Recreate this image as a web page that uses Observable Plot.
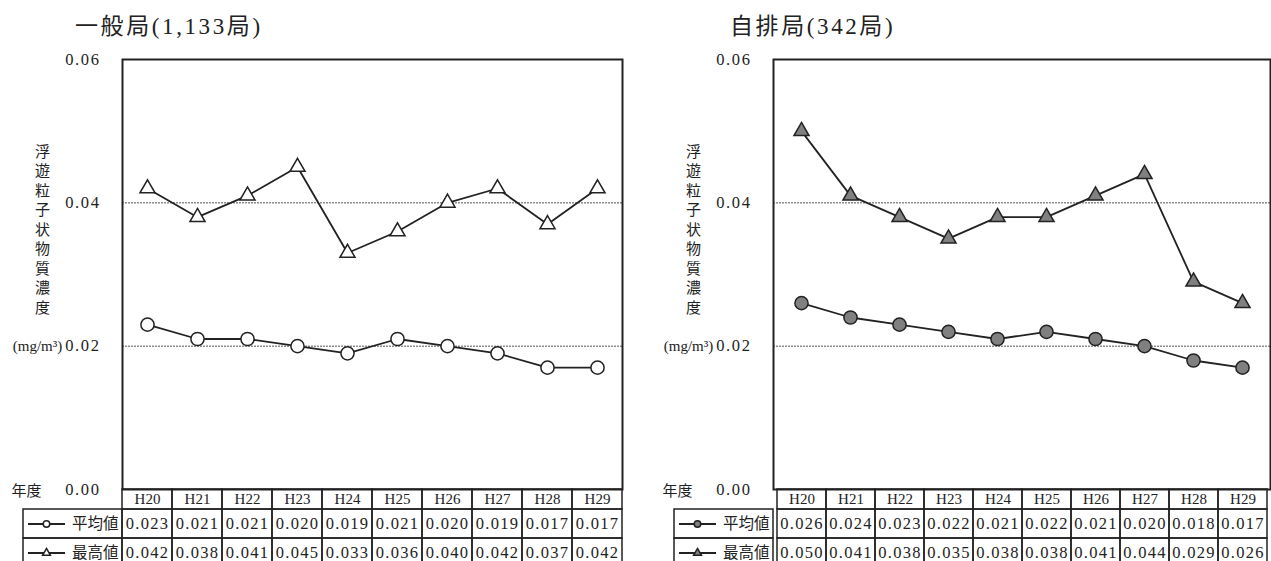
<!DOCTYPE html>
<html><head><meta charset="utf-8">
<script src="https://cdn.jsdelivr.net/npm/d3@7"></script>
<script src="https://cdn.jsdelivr.net/npm/@observablehq/plot@0.6"></script>
<style>
html,body{margin:0;padding:0;background:#fff;}
body{width:1271px;height:561px;overflow:hidden;position:relative;color:#222;}
.abs{position:absolute;}
.title{font-family:"Liberation Serif","Noto Sans CJK JP",serif;font-size:23px;letter-spacing:2.6px;white-space:nowrap;line-height:1;}
svg{overflow:visible;}
</style></head><body>
<script>
// ---- data ----
const years = ["H20","H21","H22","H23","H24","H25","H26","H27","H28","H29"];
const rowLabels = ["平均値","最高値"];
const generalAvg = [0.023,0.021,0.021,0.020,0.019,0.021,0.020,0.019,0.017,0.017];
const generalMax = [0.042,0.038,0.041,0.045,0.033,0.036,0.040,0.042,0.037,0.042];
const roadsideAvg = [0.026,0.024,0.023,0.022,0.021,0.022,0.021,0.020,0.018,0.017];
const roadsideMax = [0.050,0.041,0.038,0.035,0.038,0.038,0.041,0.044,0.029,0.026];
const yTicks = [0, 0.02, 0.04, 0.06];
const yLabel = "浮遊粒子状物質濃度";
const unitLabel = "(mg/m³)";
const yearLabel = "年度";
const titles = ["一般局(1,133局)", "自排局(342局)"];

const SERIF = '"Liberation Serif","Noto Sans CJK JP",serif';
const JP = '"Noto Sans CJK JP",sans-serif';
const INK = "#222";

const panels = [
  {title: titles[0], avg: generalAvg, max: generalMax, fill: "#ffffff",
   left: 0, width: 640, frameLeft: 122, frameRight: 622, tableLeft: 23, titleLeft: 75},
  {title: titles[1], avg: roadsideAvg, max: roadsideMax, fill: "#808080",
   left: 640, width: 631, frameLeft: 773, frameRight: 1270, tableLeft: 674, titleLeft: 730}
];

function place(node, left, top) {
  node.classList.add("abs");
  node.style.left = left + "px";
  node.style.top = top + "px";
  document.body.appendChild(node);
}

const fmt2 = d3.format(".2f");
const fmt3 = d3.format(".3f");

for (const p of panels) {
  const avgData = years.map((year, i) => ({year, value: p.avg[i]}));
  const maxData = years.map((year, i) => ({year, value: p.max[i]}));
  const mL = p.frameLeft - p.left;
  const mR = p.left + p.width - p.frameRight;

  // title
  const t = document.createElement("div");
  t.className = "title";
  t.textContent = p.title;
  place(t, p.titleLeft, 15);

  // chart
  const chart = Plot.plot({
    width: p.width, height: 490,
    marginTop: 59, marginBottom: 1, marginLeft: mL, marginRight: mR,
    style: {fontFamily: SERIF, fontSize: "15px", color: INK, background: "transparent", overflow: "visible"},
    x: {type: "point", domain: years, padding: 0.5, axis: null},
    y: {domain: [0, 0.06], axis: null},
    marks: [
      Plot.ruleY([0.02, 0.04], {stroke: "#8c8c8c", strokeWidth: 1.5, strokeDasharray: "2,1"}),
      Plot.frame({stroke: INK, strokeWidth: 2}),
      Plot.line(maxData, {x: "year", y: "value", stroke: INK, strokeWidth: 1.8}),
      Plot.line(avgData, {x: "year", y: "value", stroke: INK, strokeWidth: 1.8}),
      Plot.dot(avgData, {x: "year", y: "value", r: 6.6, fill: p.fill, stroke: INK, strokeWidth: 1.5}),
      Plot.dot(maxData, {x: "year", y: "value", symbol: "triangle", r: 5.6, fill: p.fill, stroke: INK, strokeWidth: 1.5}),
      // y tick labels
      Plot.text(yTicks, {y: d => d, text: d => fmt2(d), frameAnchor: "left", textAnchor: "end", dx: -22, fontSize: 16.5, fill: INK}),
      // axis titles
      Plot.text([yLabel.split("").join("\n")], {frameAnchor: "left", textAnchor: "middle", dx: -80, dy: -46, lineHeight: 1.3, fontFamily: JP, fontSize: 15, fill: INK}),
      Plot.text([{v: 0.02, t: unitLabel}], {y: "v", text: "t", frameAnchor: "left", textAnchor: "middle", dx: -85, fontSize: 15, fill: INK}),
      Plot.text([{v: 0, t: yearLabel}], {y: "v", text: "t", frameAnchor: "left", textAnchor: "middle", dx: -96, dy: 2, fontFamily: JP, fontSize: 15, fill: INK})
    ]
  });
  // widen the numeric tick labels like the original's monospaced digits
  chart.querySelectorAll("text").forEach(el => {
    if (/^\d\.\d\d$/.test(el.textContent)) el.style.letterSpacing = "1.6px";
  });
  place(chart, p.left, 0);

  // header row of the table
  const header = Plot.plot({
    width: p.width, height: 20,
    marginTop: 0, marginBottom: 0, marginLeft: mL, marginRight: mR,
    style: {fontFamily: SERIF, fontSize: "15px", color: INK, background: "transparent", overflow: "visible"},
    x: {type: "band", domain: years, padding: 0, axis: null},
    marks: [
      Plot.cell(years, {x: d => d, fill: "none", stroke: INK, strokeWidth: 1.5}),
      Plot.text(years, {x: d => d, frameAnchor: "middle", fill: INK, fontSize: 15})
    ]
  });
  place(header, p.left, 489);

  // value rows
  const cells = [];
  years.forEach((year, i) => {
    cells.push({year, row: rowLabels[0], value: p.avg[i]});
    cells.push({year, row: rowLabels[1], value: p.max[i]});
  });
  const table = Plot.plot({
    width: p.width, height: 58,
    marginTop: 0, marginBottom: 0, marginLeft: mL, marginRight: mR,
    style: {fontFamily: SERIF, fontSize: "16.5px", color: INK, background: "transparent", overflow: "visible", letterSpacing: "1.3px"},
    x: {type: "band", domain: years, padding: 0, axis: null},
    y: {type: "band", domain: rowLabels, padding: 0, axis: null},
    marks: [
      Plot.cell(cells, {x: "year", y: "row", fill: "none", stroke: INK, strokeWidth: 1.5}),
      Plot.text(cells, {x: "year", y: "row", text: d => fmt3(d.value), fill: INK, fontSize: 16.5})
    ]
  });
  place(table, p.left, 509);

  // legend column of the table
  const legendRows = [
    {row: rowLabels[0], symbol: "circle", r: 5.2},
    {row: rowLabels[1], symbol: "triangle", r: 4.2}
  ];
  const legend = Plot.plot({
    width: p.frameLeft - p.tableLeft, height: 58,
    marginTop: 0, marginBottom: 0, marginLeft: 0, marginRight: 0,
    style: {fontFamily: JP, fontSize: "15px", color: INK, background: "transparent", overflow: "visible"},
    y: {type: "band", domain: rowLabels, padding: 0, axis: null},
    marks: [
      Plot.cell(legendRows, {y: "row", fill: "none", stroke: INK, strokeWidth: 1.5}),
      Plot.tickY(legendRows, {y: "row", stroke: INK, strokeWidth: 1.8, insetLeft: 5, insetRight: 57}),
      Plot.dot(legendRows, {y: "row", frameAnchor: "left", dx: 23, symbol: "symbol", r: "r", fill: p.fill, stroke: INK, strokeWidth: 1.5}),
      Plot.text(legendRows, {y: "row", text: "row", frameAnchor: "right", textAnchor: "end", dx: -4, fill: INK, fontSize: 15.5})
    ]
  });
  place(legend, p.tableLeft, 509);
}
</script>
</body></html>
